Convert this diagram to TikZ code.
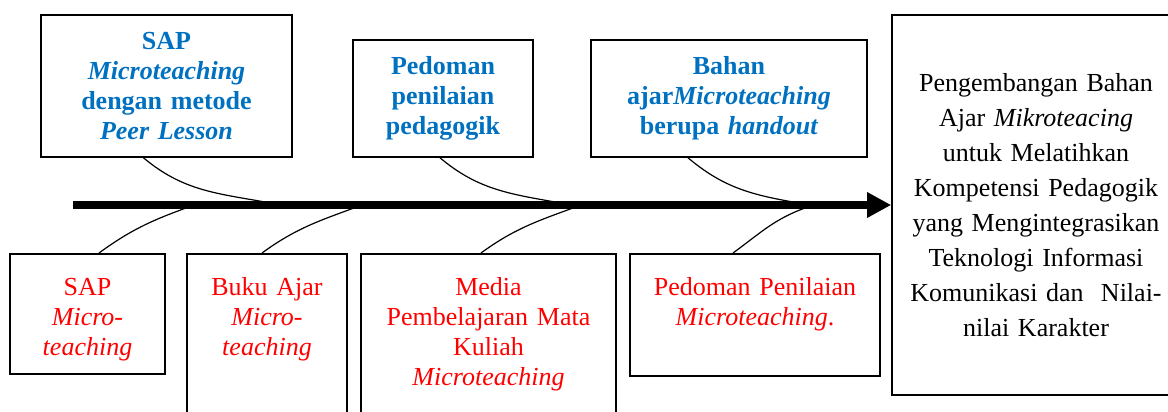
\documentclass[tikz,border=0pt]{standalone}
\usepackage{fontspec}
\setmainfont{Liberation Serif}
\usepackage{tikz}
\usetikzlibrary{arrows.meta,calc}
\definecolor{sapblue}{HTML}{0070C0}

\begin{document}
\begin{tikzpicture}[x=0.5pt,y=-0.5pt,
  topbox/.style={draw, line width=0.8pt, align=center, inner sep=0pt,
    font=\fontsize{13}{15}\selectfont\bfseries, text=sapblue},
  lowbox/.style={draw, line width=0.8pt, align=center, anchor=north, inner ysep=0pt,
    inner xsep=0pt, font=\fontsize{13}{15}\selectfont, text=red, text height=21pt},
  bone/.style={line width=0.6pt},
  spine/.style={line width=4pt, -{Triangle[length=12pt,width=12pt]}}]
\useasboundingbox (0,0) rectangle (1168,412);
% upper causes
\node[topbox, text width=117pt, minimum width=125.5pt, minimum height=71pt] (sap) at (166.5,86)
  {SAP\\\textit{Microteaching}\\dengan metode\\\textit{Peer Lesson}};
\node[topbox, text width=84pt, minimum width=90pt, minimum height=58.5pt] (pedoman) at (443,98.5)
  {Pedoman\\penilaian\\pedagogik};
\node[topbox, text width=130pt, minimum width=138pt, minimum height=58.5pt] (bahan) at (729,98.5)
  {Bahan\\ajar\textit{Microteaching}\\berupa \textit{handout}};
% effect
\node[draw, line width=0.8pt, align=center, inner sep=0pt, text width=136pt,
  minimum width=144pt, minimum height=190pt, font=\fontsize{13}{17.5}\selectfont] (goal) at (1036,205)
  {Pengembangan Bahan\\Ajar \textit{Mikroteacing}\\untuk Melatihkan\\Kompetensi Pedagogik\\yang Mengintegrasikan\\Teknologi Informasi\\Komunikasi dan~ Nilai-\\nilai Karakter};
% lower causes
\node[lowbox, text width=77.5pt, text depth=39pt] (sapmt) at (87.5,253)
  {SAP\\\textit{Micro-}\\\textit{teaching}};
\node[lowbox, text width=80pt, text depth=70pt] (buku) at (267,253)
  {Buku Ajar\\\textit{Micro-}\\\textit{teaching}};
\node[lowbox, text width=127.5pt, text depth=70pt] (media) at (488.5,253)
  {Media\\Pembelajaran Mata\\Kuliah\\\textit{Microteaching}};
\node[lowbox, text width=125pt, text depth=40pt] (penilaian) at (755,253)
  {Pedoman Penilaian\\\textit{Microteaching}.};
% points on the spine
\coordinate (tail) at (73,205);
\coordinate (j1) at (265,202);
\coordinate (j2) at (555,202);
\coordinate (j3) at (793,202);
\coordinate (k1) at (186,208);
\coordinate (k2) at (354,208);
\coordinate (k3) at (573,208);
\coordinate (k4) at (805,208);
%
\draw[bone] ($(sap.south)+(-23,0)$) to[out=-40,in=170] (j1);
\draw[bone] ($(pedoman.south)+(-3,0)$) to[out=-40,in=170] (j2);
\draw[bone] ($(bahan.south)+(-41,0)$) to[out=-40,in=170] (j3);
%
\draw[bone] ($(sapmt.north)+(11.5,0)$) to[out=36,in=200] (k1);
\draw[bone] ($(buku.north)+(-5,0)$) to[out=36,in=200] (k2);
\draw[bone] ($(media.north)+(-7.5,0)$) to[out=36,in=200] (k3);
\draw[bone] ($(penilaian.north)+(-22,0)$) to[out=36,in=200] (k4);
%
\draw[spine] (tail) -- (goal.west);
\end{tikzpicture}
\end{document}
